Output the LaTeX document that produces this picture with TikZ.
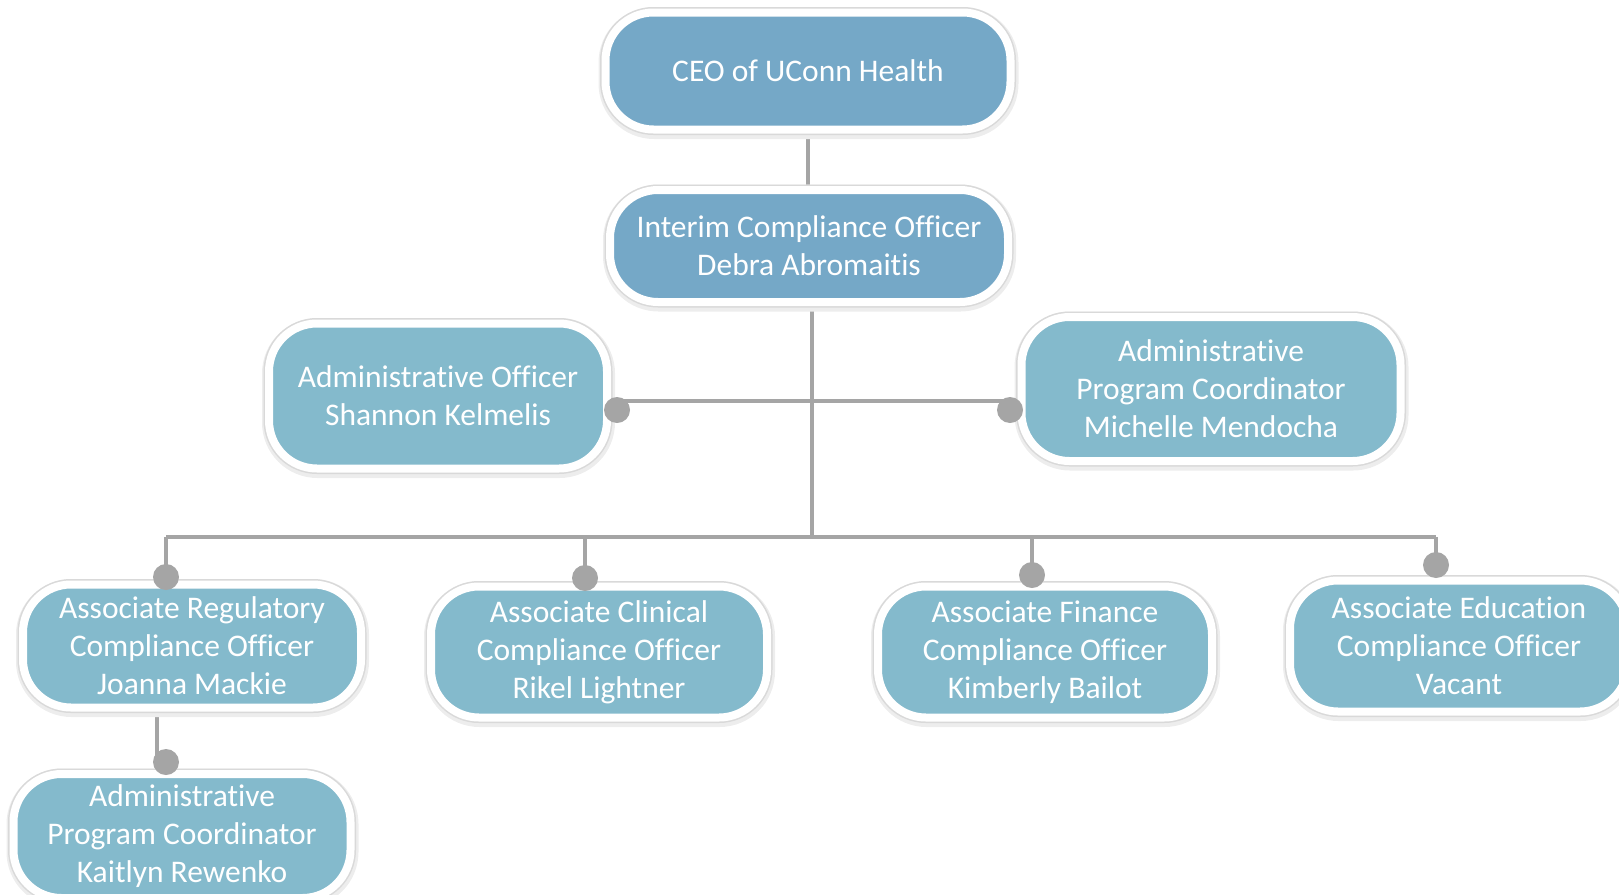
\documentclass[tikz,border=0pt]{standalone}
\usepackage{fontspec}
\setmainfont[Ligatures=NoCommon]{Carlito}
\usetikzlibrary{backgrounds}
\definecolor{darkbox}{HTML}{75A8C7}
\definecolor{lightbox}{HTML}{84BACC}
\definecolor{conn}{HTML}{A5A5A5}
\begin{document}
\begin{tikzpicture}[x=1pt,y=-1pt,
  box/.style={rectangle, rounded corners=48pt, draw=white, line width=8pt,
    text=white, align=center, inner sep=0pt,
    font=\fontsize{31.5}{38}\selectfont,
    preaction={draw=black!7, line width=15pt, transform canvas={yshift=-2pt, xshift=0.5pt}},
    preaction={draw=black!15, line width=11pt}},
  topbox/.style={box, fill=darkbox},
  subbox/.style={box, fill=lightbox},
  link/.style={draw=conn, line width=4pt},
  knob/.style={circle, fill=conn, inner sep=0pt, minimum size=26pt}]
\useasboundingbox (0,0) rectangle (1619,894);

\node[topbox, minimum width=405pt, minimum height=117pt] (ceo) at (808,71) {CEO of UConn Health};
\node[topbox, minimum width=398pt, minimum height=112pt] (ico) at (809,246) {Interim Compliance Officer\\Debra Abromaitis};
\node[subbox, minimum width=338pt, minimum height=145pt] (sk) at (438,396) {Administrative Officer\\Shannon Kelmelis};
\node[subbox, minimum width=379pt, minimum height=144pt] (mm) at (1211,389) {Administrative\\Program Coordinator\\Michelle Mendocha};
\node[subbox, minimum width=338pt, minimum height=123pt] (jm) at (192,646) {Associate Regulatory\\Compliance Officer\\Joanna Mackie};
\node[subbox, minimum width=336pt, minimum height=131pt] (rl) at (599,652) {Associate Clinical\\Compliance Officer\\Rikel Lightner};
\node[subbox, minimum width=334pt, minimum height=131pt] (kb) at (1045,652) {Associate Finance\\Compliance Officer\\Kimberly Bailot};
\node[subbox, minimum width=338pt, minimum height=131pt] (ev) at (1459,646) {Associate Education\\Compliance Officer\\Vacant};
\node[subbox, minimum width=337pt, minimum height=124pt] (kr) at (182,836) {Administrative\\Program Coordinator\\Kaitlyn Rewenko};

\node[knob] (dsk) at (617,410) {};
\node[knob] (dmm) at (1010,410) {};
\node[knob] (djm) at (166,577) {};
\node[knob] (drl) at (585,578) {};
\node[knob] (dkb) at (1032,575) {};
\node[knob] (dev) at (1436,565) {};
\node[knob] (dkr) at (166,762) {};

\coordinate (mid) at (812,401);
\coordinate (bus) at (812,537);

\begin{scope}[on background layer]
  \draw[link] (ceo.south) -- (ceo.south |- ico.north);
  \draw[link] (ico.south -| bus) -- (bus);
  \draw[link] (dsk.center |- mid) -- (dmm.center |- mid);
  \draw[link] (djm.center |- bus) -- (dev.center |- bus);
  \draw[link] (djm.center |- bus) -- (djm.center);
  \draw[link] (drl.center |- bus) -- (drl.center);
  \draw[link] (dkb.center |- bus) -- (dkb.center);
  \draw[link] (dev.center |- bus) -- (dev.center);
  \draw[link] ([xshift=-9pt]dkr.center |- jm.south) -- ([xshift=-9pt]dkr.center);
\end{scope}
\end{tikzpicture}
\end{document}
